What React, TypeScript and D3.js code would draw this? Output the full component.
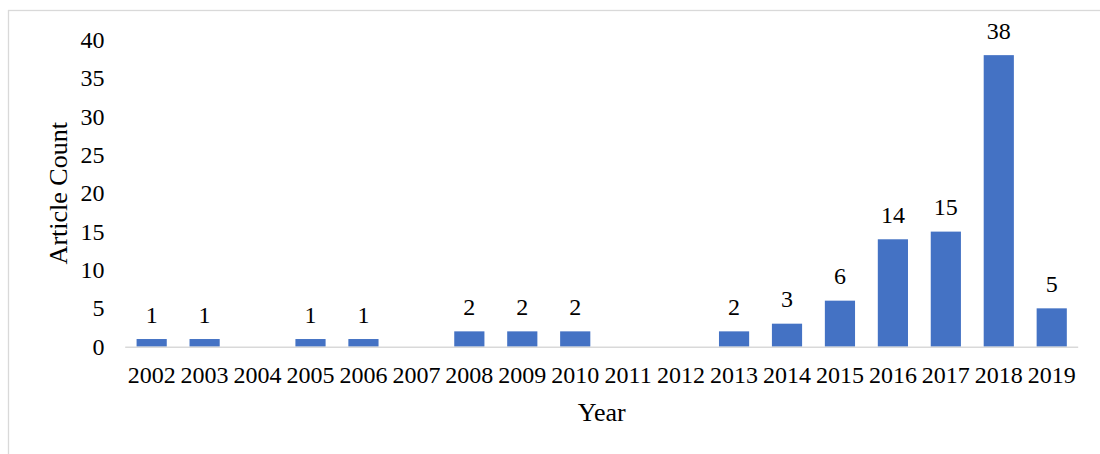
import { useEffect, useRef } from "react";
import * as d3 from "d3";

const years = [
  "2002", "2003", "2004", "2005", "2006", "2007", "2008", "2009", "2010",
  "2011", "2012", "2013", "2014", "2015", "2016", "2017", "2018", "2019",
];
const articleCounts = [1, 1, 0, 1, 1, 0, 2, 2, 2, 0, 0, 2, 3, 6, 14, 15, 38, 5];
const yTicks = [0, 5, 10, 15, 20, 25, 30, 35, 40];

const FONT = "'Liberation Serif', 'Times New Roman', serif";

const App = () => {
  const svgRef = useRef<SVGSVGElement>(null);

  useEffect(() => {
    if (!svgRef.current) return;
    const svg = d3.select(svgRef.current);
    svg.selectAll("*").remove();

    const left = 125.2;
    const right = 1078.2;
    const top = 39.8;
    const bottom = 346.7;

    const x = d3.scaleBand<string>().domain(years).range([left, right]).paddingInner(0.43).paddingOuter(0.215);
    const y = d3.scaleLinear().domain([0, 40]).range([bottom, top]);

    // pair years with counts, drop empty years
    const rows = years
      .map((year, i) => ({ year, value: articleCounts[i] }))
      .filter((d) => d.value > 0);

    // chart frame (only top and left edges are visible in the crop)
    svg.append("rect")
      .attr("x", 8.5)
      .attr("y", 10.5)
      .attr("width", 1200)
      .attr("height", 600)
      .style("fill", "white")
      .style("stroke", "#d9d9d9")
      .style("stroke-width", 1.3);

    // y tick labels
    svg.append("g")
      .selectAll("text")
      .data(yTicks)
      .enter()
      .append("text")
      .attr("x", 104.5)
      .attr("y", (d) => y(d) + 8)
      .attr("text-anchor", "end")
      .style("font-family", FONT)
      .style("font-size", "24px")
      .style("fill", "#000")
      .text((d) => d);

    // bars
    svg.append("g")
      .selectAll("rect")
      .data(rows)
      .enter()
      .append("rect")
      .attr("x", (d) => x(d.year) as number)
      .attr("y", (d) => y(d.value))
      .attr("width", x.bandwidth())
      .attr("height", (d) => bottom - y(d.value))
      .style("fill", "#4472C4");

    // baseline
    svg.append("line")
      .attr("x1", left)
      .attr("x2", right)
      .attr("y1", bottom + 0.5)
      .attr("y2", bottom + 0.5)
      .style("stroke", "#d9d9d9")
      .style("stroke-width", 1.5);

    // data labels
    svg.append("g")
      .selectAll("text")
      .data(rows)
      .enter()
      .append("text")
      .attr("x", (d) => (x(d.year) as number) + x.bandwidth() / 2)
      .attr("y", (d) => y(d.value) - 16.5)
      .attr("text-anchor", "middle")
      .style("font-family", FONT)
      .style("font-size", "24px")
      .style("fill", "#000")
      .text((d) => d.value);

    // x tick labels
    svg.append("g")
      .selectAll("text")
      .data(years)
      .enter()
      .append("text")
      .attr("x", (d) => (x(d) as number) + x.bandwidth() / 2)
      .attr("y", 382.7)
      .attr("text-anchor", "middle")
      .style("font-family", FONT)
      .style("font-size", "24px")
      .style("fill", "#000")
      .text((d) => d);

    // axis titles
    svg.append("text")
      .attr("x", (left + right) / 2)
      .attr("y", 420.5)
      .attr("text-anchor", "middle")
      .style("font-family", FONT)
      .style("font-size", "26px")
      .style("fill", "#000")
      .text("Year");

    svg.append("text")
      .attr("transform", `translate(67, ${(top + bottom) / 2}) rotate(-90)`)
      .attr("text-anchor", "middle")
      .style("font-family", FONT)
      .style("font-size", "26px")
      .style("fill", "#000")
      .text("Article Count");
  }, []);

  return (
    <svg
      ref={svgRef}
      width={1100}
      height={454}
      style={{ position: "absolute", left: 0, top: 0, display: "block", background: "white" }}
    />
  );
};

export default App;
